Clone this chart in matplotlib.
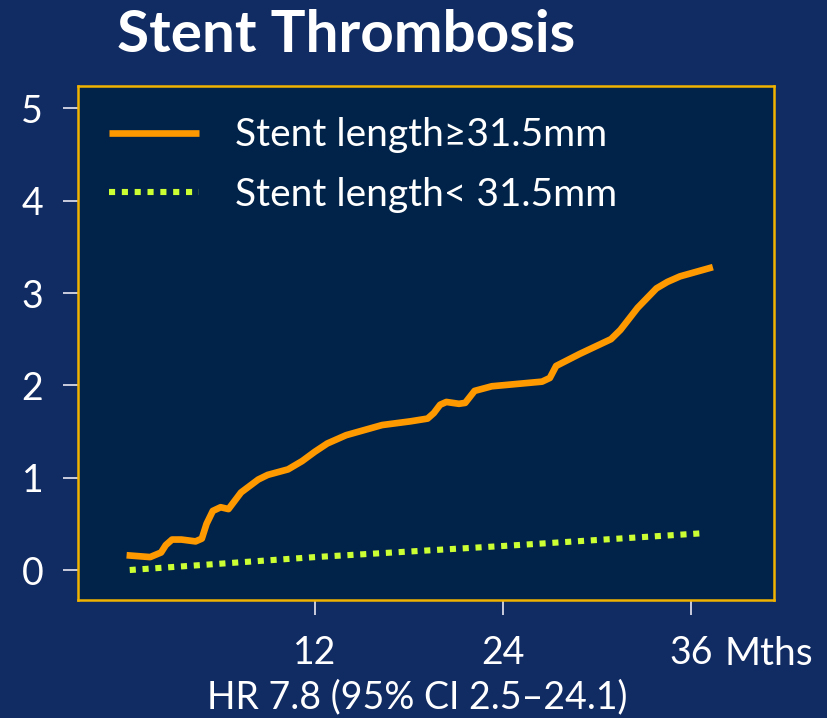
import matplotlib
matplotlib.use("Agg")
import matplotlib.pyplot as plt

# cumulative stent thrombosis (%) by month
months_long = [0, 1.5, 2.2, 2.5, 2.9, 3.5, 4.4, 4.8, 5.1, 5.5, 6.0, 6.5,
               7.3, 8.4, 9.0, 10.3, 11.2, 12.0, 12.8, 14.0, 16.3, 18.1,
               19.2, 19.6, 20.0, 20.4, 21.2, 21.6, 22.2, 23.3, 26.5, 27.0,
               27.4, 28.9, 30.9, 31.5, 32.6, 33.8, 34.5, 35.3, 37.4]
rate_long = [0.16, 0.14, 0.19, 0.27, 0.33, 0.33, 0.31, 0.34, 0.50, 0.64,
             0.68, 0.66, 0.84, 0.98, 1.03, 1.09, 1.18, 1.28, 1.37, 1.46,
             1.57, 1.61, 1.64, 1.70, 1.79, 1.82, 1.80, 1.81, 1.94, 1.99,
             2.04, 2.08, 2.21, 2.34, 2.50, 2.60, 2.84, 3.05, 3.12, 3.18,
             3.28]

months_short = [0.2, 12, 24, 36.9]
rate_short = [0.0, 0.14, 0.26, 0.40]

label_long = "Stent length\u226531.5mm"
label_short = "Stent length< 31.5mm"
xticks = [12, 24, 36]
yticks = [0, 1, 2, 3, 4, 5]

BG = "#112b63"
PANEL = "#012349"
GOLD = "#f2b300"
ORANGE = "#ff9900"
LIME = "#ccff33"

plt.rcParams["font.family"] = ["Lato", "DejaVu Sans"]

fig = plt.figure(figsize=(8.28, 7.18), dpi=100)
fig.patch.set_facecolor(BG)
ax = fig.add_axes([0.0942, 0.1643, 0.8406, 0.7157])
ax.set_facecolor(PANEL)

ax.plot(months_long, rate_long, color=ORANGE, lw=4.8,
        solid_joinstyle="round", solid_capstyle="butt", label=label_long)
ax.plot(months_short, rate_short, color=LIME, lw=4.4,
        linestyle=(0, (1, 1.1)), dash_capstyle="butt", label=label_short)

ax.set_xlim(-3.1, 41.3)
ax.set_ylim(-0.325, 5.24)

for s in ax.spines.values():
    s.set_color(GOLD)
    s.set_linewidth(1.8)

ax.set_xticks(xticks)
ax.set_xticklabels([str(t) for t in xticks])
ax.set_yticks(yticks)
ax.tick_params(colors="#e8e8f0", labelcolor="white", length=11, width=1.2,
               labelsize=27)
ax.tick_params(axis="x", pad=14)
ax.tick_params(axis="y", pad=14)

ax.annotate("Mths", xy=(36, 0), xycoords=("data", "axes fraction"),
            xytext=(24, -38.5), textcoords="offset points",
            color="white", fontsize=28, ha="left", va="center")

leg = ax.legend(loc="upper left", frameon=False, fontsize=28,
                handlelength=2.3, handletextpad=0.95, labelspacing=0.6,
                borderaxespad=0.35, borderpad=0.45)
for t in leg.get_texts():
    t.set_color("white")

fig.text(0.418, 0.951, "Stent Thrombosis", color="white", fontsize=42,
         fontweight="bold", ha="center", va="center")
fig.text(0.504, 0.029, "HR 7.8 (95% CI 2.5\u201324.1)", color="white",
         fontsize=27, ha="center", va="center")

fig.savefig("out.png", dpi=100, facecolor=BG)
